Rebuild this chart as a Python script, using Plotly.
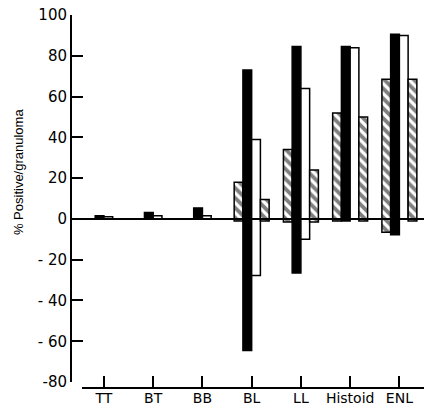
import plotly.graph_objects as go

categories = ["TT", "BT", "BB", "BL", "LL", "Histoid", "ENL"]

# positive and negative parts of each bar, per series
hatch_left_pos = [0, 0, 0, 18, 34, 52, 68.5]
hatch_left_neg = [0, 0, 0, -1, -1.5, -1, -6.5]
black_pos = [1.5, 3.2, 5.4, 73, 84.5, 84.5, 90.5]
black_neg = [0, 0, 0, -64.5, -26.5, -1, -7.8]
white_pos = [1.0, 1.5, 1.5, 39, 64, 84, 90]
white_neg = [0, 0, 0, -27.7, -10, 0, 0]
hatch_right_pos = [0, 0, 0, 9.5, 24, 50, 68.5]
hatch_right_neg = [0, 0, 0, -1, -1.5, -1, -1]

ytick_vals = [-80, -60, -40, -20, 0, 20, 40, 60, 80, 100]
ytick_text = ["-80", "- 60", "- 40", "- 20", "0", "20", "40", "60", "80", "100"]
y_title = "% Positive/granuloma"

hatch_marker = dict(
    color="white",
    line=dict(color="black", width=1.5),
    pattern=dict(shape="\\", fgcolor="black", bgcolor="white", size=7, solidity=0.55),
)


def span_bar(pos, neg, marker):
    return go.Bar(
        x=categories,
        y=[p - n for p, n in zip(pos, neg)],
        base=neg,
        marker=marker,
        showlegend=False,
    )


fig = go.Figure()
fig.add_trace(span_bar(hatch_left_pos, hatch_left_neg, hatch_marker))
fig.add_trace(span_bar(black_pos, black_neg, dict(color="black", line=dict(color="black", width=1.5))))
fig.add_trace(span_bar(white_pos, white_neg, dict(color="white", line=dict(color="black", width=1.5))))
fig.add_trace(span_bar(hatch_right_pos, hatch_right_neg, hatch_marker))

fig.add_shape(type="line", xref="paper", x0=0, x1=1, yref="y", y0=0, y1=0,
              line=dict(color="black", width=2))

fig.add_annotation(
    text=y_title, textangle=-90, showarrow=False,
    xref="paper", yref="paper", x=-0.150, y=0.579,
    xanchor="center", yanchor="middle",
    font=dict(family="Liberation Sans, Arial, sans-serif", size=13, color="black"),
)

fig.update_layout(
    width=426, height=409,
    margin=dict(l=71, r=2, t=15, b=21),
    paper_bgcolor="white", plot_bgcolor="white",
    barmode="group", bargap=0.29, bargroupgap=0,
    font=dict(family="DejaVu Sans, sans-serif", color="black", size=14),
    xaxis=dict(
        type="category", categoryorder="array", categoryarray=categories,
        domain=[0.031, 1], anchor="free", position=0,
        range=[-0.447, 6.5], automargin=False,
        showline=True, linecolor="black", linewidth=2,
        ticks="inside", ticklen=11, tickwidth=1.5, tickcolor="black",
        showgrid=False, zeroline=False, tickfont=dict(size=14),
        ticklabelstandoff=-3,
    ),
    yaxis=dict(
        domain=[0.016, 1], anchor="free", position=0,
        range=[-80, 100], tickvals=ytick_vals, ticktext=ytick_text,
        automargin=False,
        showline=True, linecolor="black", linewidth=2,
        ticks="inside", ticklen=11, tickwidth=1.5, tickcolor="black",
        showgrid=False, zeroline=False, tickfont=dict(size=15),
    ),
)

fig.write_html(
    "out.html",
    config={"displayModeBar": False},
    post_script="document.body.style.margin='0';document.body.style.overflow='hidden';",
)
